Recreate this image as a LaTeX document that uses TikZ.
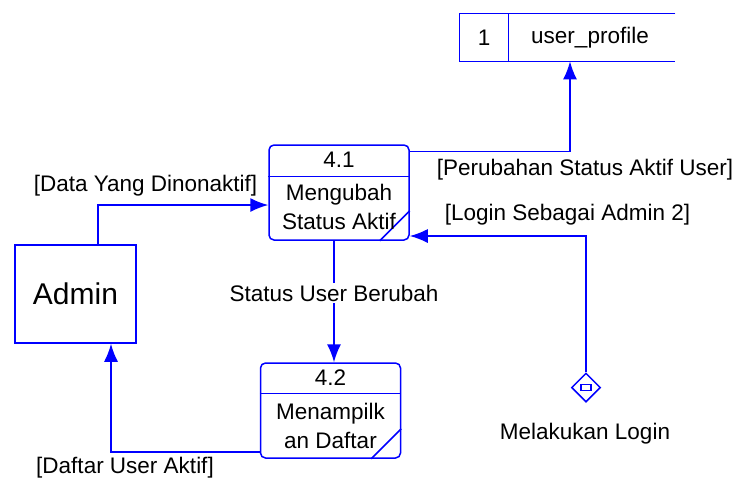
\documentclass[tikz,border=0pt]{standalone}
\usepackage{fontspec}
\setmainfont{Liberation Sans}
\usetikzlibrary{arrows.meta,shapes.geometric}

\tikzset{
  flow/.style={draw=blue, line width=0.75pt, -{Latex[length=9pt,width=7pt]}},
  proc/.style={draw=blue, line width=0.75pt, rounded corners=2.5pt,
               minimum width=70pt, minimum height=47.5pt, inner sep=0pt},
  txt/.style={font=\fontsize{11.25}{14.5}\selectfont, inner sep=1pt, align=center},
}

\begin{document}
\begin{tikzpicture}[x=0.5pt, y=-0.5pt]
            % page frame
            \useasboundingbox (0,0) rectangle (737,484);

            % data store
            \node (ds) [minimum width=107.5pt, minimum height=23.5pt, inner sep=0pt] at (567.5,37.5) {};
            \draw[blue, line width=0.75pt] (ds.north east) -- (ds.north west) -- (ds.south west) -- (ds.south east);
            \draw[blue, line width=0.75pt] ([xshift=24.5pt]ds.north west) -- ([xshift=24.5pt]ds.south west);
            \node[txt] (dsnum) at (484,37.5) {1};
            \node[txt] (dsname) at (590,37.5) {user\_profile};

            % external entity
            \node (admin) [draw=blue, line width=0.75pt, minimum width=60.5pt, minimum height=49pt,
                           font=\fontsize{15}{18}\selectfont] at (75.5,294) {Admin};

            % process 4.1
            \node (p41) [proc] at (339,192.5) {};
            \draw[blue, line width=0.75pt] ([yshift=8pt]p41.west) -- ([yshift=8pt]p41.east);
            \draw[blue, line width=0.75pt] ([xshift=-15pt]p41.south east) -- ([yshift=15pt]p41.south east);
            \node[txt] (p41num) at ([yshift=16.25pt]p41.center) {4.1};
            \node[txt] (p41name) at ([yshift=-7.25pt]p41.center) {Mengubah\\Status Aktif};

            % process 4.2
            \node (p42) [proc] at (330.5,410.5) {};
            \draw[blue, line width=0.75pt] ([yshift=8.5pt]p42.west) -- ([yshift=8.5pt]p42.east);
            \draw[blue, line width=0.75pt] ([xshift=-15pt]p42.south east) -- ([yshift=15pt]p42.south east);
            \node[txt] (p42num) at ([yshift=16.25pt]p42.center) {4.2};
            \node[txt] (p42name) at ([yshift=-7.5pt]p42.center) {Menampilk\\an Daftar};

            % login event
            \node (login) [draw=blue, line width=0.75pt, diamond, minimum width=14.5pt,
                           minimum height=14.5pt, inner sep=0pt] at (586,387.5) {};
            \draw[blue, line width=0.75pt] ([xshift=-2.5pt, yshift=-1.5pt]login.center) rectangle ([xshift=2.5pt, yshift=1.5pt]login.center);
            \node[txt] (loginname) at (585,434) {Melakukan Login};

            % flows
            \draw[flow] ([yshift=-3.5pt]p41.north east) -| ([xshift=1.25pt]ds.south);
            \draw[flow] ([xshift=11.25pt]admin.north) |- ([yshift=-6.25pt]p41.west);
            \draw[flow] ([xshift=-2.5pt]p41.south) -- ([xshift=-2.5pt]p41.south |- p42.north)
                        node[txt, fill=white, pos=0.43] (berubah) {Status User Berubah};
            \draw[flow] (login.north) |- ([yshift=-21.75pt]p41.east);
            \draw[flow] ([yshift=-20.75pt]p42.west) -| ([xshift=17.75pt]admin.south);

            % flow labels
            \node[txt] (lblperubahan) at (585,170) {[Perubahan Status Aktif User]};
            \node[txt] (lbldata) at (145.5,186) {[Data Yang Dinonaktif]};
            \node[txt] (lbllogin) at (567.5,215) {[Login Sebagai Admin 2]};
            \node[txt] (lbldaftar) at (125,468) {[Daftar User Aktif]};
        \end{tikzpicture}
\end{document}
